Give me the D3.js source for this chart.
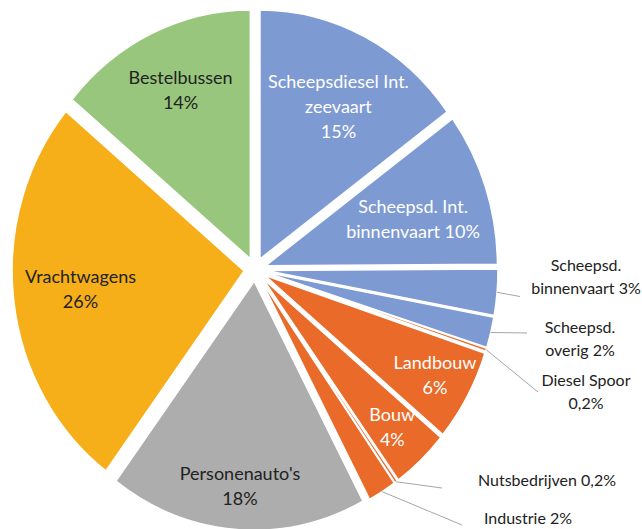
<!DOCTYPE html>
<html>
<head>
<meta charset="utf-8">
<script src="https://cdn.jsdelivr.net/npm/d3@7"></script>
<style>
  body { margin: 0; background: #fff; }
  text { font-family: Lato, "Noto Sans", sans-serif; font-size: 18px; }
  text.outside { font-size: 16px; }
</style>
</head>
<body>
<svg id="chart" width="642" height="529"></svg>
<script>
// data (clockwise from 12 o'clock)
const categories = ["Scheepsdiesel Int. zeevaart", "Scheepsd. Int. binnenvaart", "Scheepsd. binnenvaart",
    "Scheepsd. overig", "Diesel Spoor", "Landbouw", "Bouw", "Nutsbedrijven", "Industrie",
    "Personenauto's", "Vrachtwagens", "Bestelbussen"];
const values = [15, 10, 3, 2, 0.2, 6, 4, 0.2, 2, 18, 26, 14];
const pctLabels = ["15%", "10%", "3%", "2%", "0,2%", "6%", "4%", "0,2%", "2%", "18%", "26%", "14%"];

// how each label is broken into lines
const labelLines = [
    ["Scheepsdiesel Int.", "zeevaart", "15%"],
    ["Scheepsd. Int.", "binnenvaart 10%"],
    ["Scheepsd.", "binnenvaart 3%"],
    ["Scheepsd.", "overig 2%"],
    ["Diesel Spoor", "0,2%"],
    ["Landbouw", "6%"],
    ["Bouw", "4%"],
    ["Nutsbedrijven 0,2%"],
    ["Industrie 2%"],
    ["Personenauto's", "18%"],
    ["Vrachtwagens", "26%"],
    ["Bestelbussen", "14%"]
];

const blue = "#7D9AD2", orange = "#E96A29", grey = "#ADADAD", yellow = "#F6AE19", green = "#97C67C";
const sliceColor = [blue, blue, blue, blue, orange, orange, orange, orange, orange, grey, yellow, green];

const cx = 255, cy = 269.5,
    R = 232,
    explode = 11,
    sy = 1.073,       // picture is a bit taller than wide
    lineH = 25;

// inside labels: fraction of radius (+ small nudge); outside labels: text centre + leader end (offset from centre)
const inside = {
    0: {k: 0.70, nx: 5, ny: 3},
    1: {k: 0.67, nx: 0, ny: 6},
    5: {k: 0.84, nx: 0, ny: -2},
    6: {k: 0.82, nx: 0, ny: 0},
    9: {k: 0.815, nx: 0, ny: 3},
    10: {k: 0.71, nx: 0, ny: -3},
    11: {k: 0.77, nx: 6, ny: 5}
};
const outside = {
    2: {tx: 331, ty: 7, lx: 265, ly: 27},
    3: {tx: 325, ty: 69.5, lx: 272, ly: 63.5},
    4: {tx: 331, ty: 122, lx: 283, ly: 122.5},
    7: {tx: 292, ty: 210.5, lx: 187, ly: 218.5},
    8: {tx: 273, ty: 248.5, lx: 207, ly: 255.5}
};

const svg = d3.select("#chart");

const arcs = d3.pie().value(d => d).sort(null)(values);
const arc = d3.arc().innerRadius(0).outerRadius(R);
const mid = d => (d.startAngle + d.endAngle) / 2;

const pieG = svg.append("g")
    .attr("transform", "translate(" + cx + "," + cy + ") scale(1," + sy + ")");

pieG.selectAll("path")
    .data(arcs)
    .join("path")
    .attr("d", arc)
    .attr("transform", d => "translate(" + (Math.sin(mid(d)) * explode) + "," + (-Math.cos(mid(d)) * explode) + ")")
    .attr("fill", (d, i) => sliceColor[i])
    .attr("stroke", "#fff")
    .attr("stroke-width", 1.5)
    .attr("vector-effect", "non-scaling-stroke");

// polar -> screen
function point(a, dist) {
    return [cx + Math.sin(a) * dist, cy - Math.cos(a) * dist * sy];
}

function drawLabel(x, y, lines, color, cls, lh) {
    const t = svg.append("text")
        .attr("class", cls)
        .attr("text-anchor", "middle")
        .attr("fill", color);
    lines.forEach((s, j) => {
        t.append("tspan")
            .attr("x", x)
            .attr("y", y + j * lh - (lines.length - 1) * lh / 2)
            .attr("dy", "0.35em")
            .text(s);
    });
}

arcs.forEach((d, i) => {
    if (inside[i] !== undefined) {
        const L = inside[i];
        const p = point(mid(d), explode + L.k * R);
        const white = sliceColor[i] === blue || sliceColor[i] === orange;
        drawLabel(p[0] + L.nx, p[1] + L.ny, labelLines[i], white ? "#fff" : "#222", "inside", lineH);
    } else {
        const o = outside[i];
        const s = point(mid(d), explode + R);
        svg.append("line")
            .attr("x1", s[0]).attr("y1", s[1])
            .attr("x2", cx + o.lx).attr("y2", cy + o.ly)
            .attr("stroke", "#a6a6a6")
            .attr("stroke-width", 1);
        drawLabel(cx + o.tx, cy + o.ty, labelLines[i], "#222", "outside", 23);
    }
});
</script>
</body>
</html>
